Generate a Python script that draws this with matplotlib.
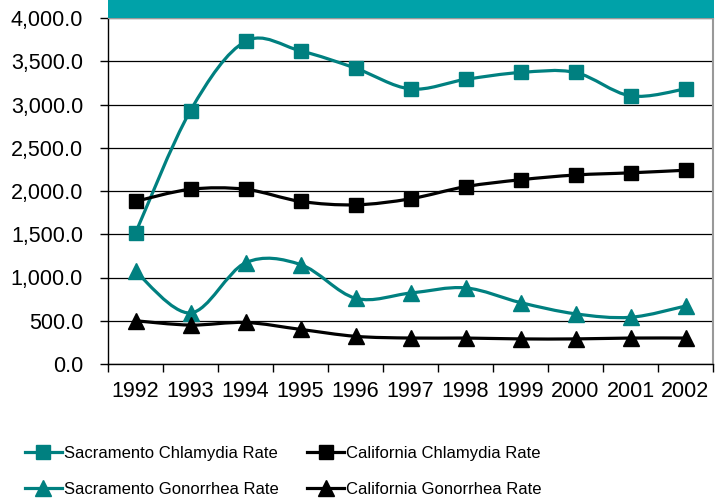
import matplotlib
matplotlib.use("Agg")
import matplotlib.pyplot as plt
import numpy as np
from matplotlib.path import Path
from matplotlib.patches import PathPatch, Rectangle
from matplotlib.lines import Line2D
from matplotlib.ticker import FuncFormatter, MultipleLocator, FixedLocator

plt.rcParams['font.family'] = ['Liberation Sans', 'DejaVu Sans']

years = ['1992', '1993', '1994', '1995', '1996', '1997', '1998', '1999', '2000', '2001', '2002']
sac_chlamydia = [1515, 2930, 3730, 3620, 3420, 3180, 3290, 3370, 3370, 3100, 3180]
ca_chlamydia = [1880, 2020, 2020, 1880, 1840, 1910, 2050, 2130, 2185, 2210, 2240]
sac_gonorrhea = [1070, 590, 1170, 1150, 760, 820, 880, 710, 580, 540, 670]
ca_gonorrhea = [500, 450, 480, 400, 320, 300, 300, 290, 290, 300, 300]

labels = ['Sacramento Chlamydia Rate', 'California Chlamydia Rate',
          'Sacramento Gonorrhea Rate', 'California Gonorrhea Rate']

TEAL = '#008080'
BAR = '#00A2A9'

fig = plt.figure(figsize=(7.16, 5.03), dpi=100)
W, H = 716, 503
x0, x1, yb, yt = 108, 713, 364, 18
ax = fig.add_axes([x0 / W, 1 - yb / H, (x1 - x0) / W, (yb - yt) / H])


def smooth_path(xs, ys):
    xs = np.asarray(xs, float)
    ys = np.asarray(ys, float)
    pts = np.column_stack([xs, ys])
    n = len(pts)
    verts = [pts[0]]
    codes = [Path.MOVETO]
    for i in range(n - 1):
        p0 = pts[i - 1] if i > 0 else pts[i]
        p1 = pts[i]
        p2 = pts[i + 1]
        p3 = pts[i + 2] if i + 2 < n else pts[i + 1]
        c1 = p1 + (p2 - p0) / 6.0
        c2 = p2 - (p3 - p1) / 6.0
        verts += [c1, c2, p2]
        codes += [Path.CURVE4] * 3
    return Path(verts, codes)


xpos = np.arange(len(years))
series = [
    (sac_chlamydia, TEAL, 's'),
    (ca_chlamydia, 'black', 's'),
    (sac_gonorrhea, TEAL, '^'),
    (ca_gonorrhea, 'black', '^'),
]
lw = 2.3
handles = []
for (vals, col, mk), lab in zip(series, labels):
    patch = PathPatch(smooth_path(xpos, vals), facecolor='none', edgecolor=col,
                      lw=lw, zorder=3, capstyle='round', joinstyle='round')
    ax.add_patch(patch)
    ax.plot(xpos, vals, linestyle='none', marker=mk, color=col,
            markersize=10 if mk == 's' else 11, zorder=4)
    handles.append(Line2D([], [], color=col, lw=lw, marker=mk,
                          markersize=10 if mk == 's' else 11))

ax.set_xlim(-0.5, len(years) - 0.5)
ax.set_ylim(0, 4000)
ax.yaxis.set_major_locator(MultipleLocator(500))
ax.yaxis.set_major_formatter(FuncFormatter(lambda v, p: f'{v:,.1f}'))
ax.grid(axis='y', color='black', lw=0.9)
ax.set_axisbelow(True)

ax.set_xticks(xpos)
ax.set_xticklabels(years)
ax.xaxis.set_minor_locator(FixedLocator(np.arange(-0.5, len(years), 1.0)))
ax.tick_params(axis='x', which='major', length=0, pad=12, labelsize=15.5)
ax.tick_params(axis='x', which='minor', length=6, width=1, direction='out')
ax.tick_params(axis='y', which='major', length=6, width=1, direction='out', labelsize=15.5, pad=12)

for s in ['left', 'bottom']:
    ax.spines[s].set_color('black')
    ax.spines[s].set_linewidth(1)
ax.spines['right'].set_color('#999999')
ax.spines['right'].set_linewidth(1.5)
ax.spines['top'].set_color('#999999')

# teal header bar above plot area
fig.patches.append(Rectangle((x0 / W, 1 - yt / H), (x1 + 1 - x0) / W, yt / H,
                             transform=fig.transFigure, facecolor=BAR,
                             edgecolor='none', zorder=0))

order = [0, 2, 1, 3]
fig.legend([handles[i] for i in order], [labels[i] for i in order], ncol=2,
           loc='upper left', bbox_to_anchor=(10 / W, 1 - 431 / H), frameon=False,
           fontsize=12, handlelength=2.2, handletextpad=0.15,
           columnspacing=1.7, labelspacing=1.25)

fig.savefig('out.png', dpi=100)
